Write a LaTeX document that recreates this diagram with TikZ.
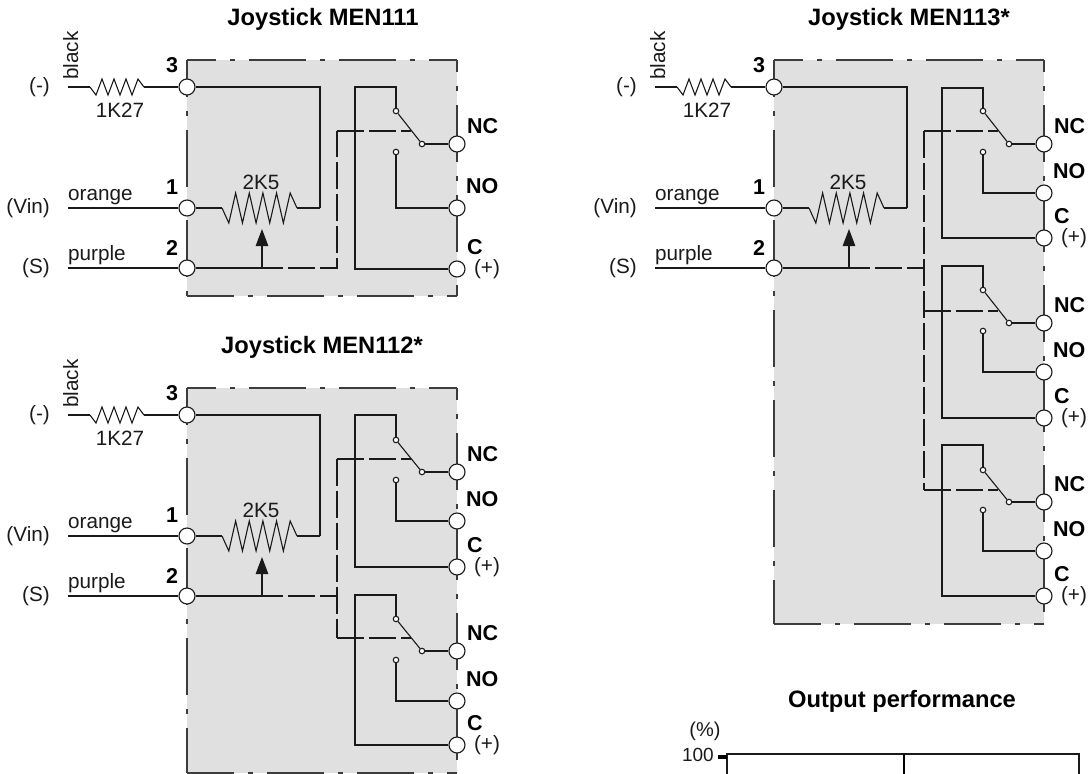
\documentclass[tikz,border=0pt]{standalone}
\usepackage{fontspec}
\setmainfont{Liberation Sans}
\usetikzlibrary{arrows.meta,calc}
\definecolor{panelgrey}{HTML}{E0E0E0}
\definecolor{inkc}{HTML}{1A1A1A}
\newcommand{\fsz}[1]{\fontsize{#1}{#1}\selectfont}
\tikzset{
  wire/.style={draw=inkc,line width=1.1pt},
  ctrl/.style={draw=inkc,line width=1.1pt,dash pattern=on 27pt off 5pt},
  panel/.style={fill=panelgrey},
  panelline/.style={draw=inkc!85,line width=1.1pt,dash pattern=on 57pt off 14pt on 5pt off 14pt},
  pin/.style={circle,draw=inkc,fill=white,line width=1.1pt,minimum size=16pt,inner sep=0pt},
  contact/.style={circle,draw=inkc,fill=white,line width=1.1pt,minimum size=5.5pt,inner sep=0pt},
  txt/.style={inner sep=0pt,font=\fsz{20.7},text=inkc},
  bold/.style={inner sep=0pt,font=\fsz{21.5}\bfseries,text=black},
  heading/.style={inner sep=0pt,anchor=base,font=\fsz{23.7}\bfseries,text=black},
}
% grey panel with its dash-dot outline
\newcommand{\panelbox}[4]{%
  \path[panel] (#1,#2) rectangle (#3,#4);
  \draw[panelline,dash phase=28pt] (#1,#2) -- (#3,#2);
  \draw[panelline,dash phase=20pt] (#1,#2) -- (#1,#4);
  \draw[panelline,dash phase=45pt] (#3,#2) -- (#3,#4);
  \draw[panelline,dash phase=10pt] (#1,#4) -- (#3,#4);
}
% resistor: #1 start, #2 end, #3 number of peaks, #4 half height
\newcommand{\resistorzig}[4]{%
  \draw[wire,line join=miter] (#1) \foreach \i in {1,...,#3} { -- ($(#1)!{\i/(#3+1)}!(#2)+(0,{#4*(2*mod(\i,2)-1)})$) } -- (#2);}
% left part of a joystick: #1 prefix, #2 x offset, #3 y pin3, #4 y pin1, #5 y pin2
\newcommand{\leftpart}[5]{%
  \node[pin] (#1p3) at (#2+187,#3) {};
  \node[pin] (#1p1) at (#2+187,#4) {};
  \node[pin] (#1p2) at (#2+187,#5) {};
  \coordinate (#1w3) at (#2+68,#3);
  \coordinate (#1w1) at (#2+68,#4);
  \coordinate (#1w2) at (#2+68,#5);
  \coordinate (#1ra) at (#2+90,#3);
  \coordinate (#1rb) at (#2+144,#3);
  \coordinate (#1pa) at (#2+222,#4);
  \coordinate (#1pb) at (#2+297,#4);
  \coordinate (#1lc) at (#2+320,#4);
  \coordinate (#1wi) at (#2+262,#5);
  \coordinate (#1ti) at (#2+262,#4+21);
  \draw[wire] (#1w3) -- (#1ra);
  \resistorzig{#1ra}{#1rb}{8}{8}
  \draw[wire] (#1rb) -- (#1p3);
  \draw[wire] (#1w1) -- (#1p1);
  \draw[wire] (#1w2) -- (#1p2);
  \draw[wire] (#1p2) -- (#1wi);
  \draw[wire] (#1p1) -- (#1pa);
  \resistorzig{#1pa}{#1pb}{10}{15}
  \draw[wire] (#1pb) -- (#1lc);
  \draw[wire] (#1p3) -| (#1lc);
  \draw[wire,-{Triangle[length=17pt,width=12.5pt]}] (#1wi) -- (#1ti);
  \node[txt,anchor=east] (#1tm) at (#2+50,#3) {(-)};
  \node[txt,anchor=east] (#1tv) at (#2+50,#4) {(Vin)};
  \node[txt,anchor=east] (#1ts) at (#2+50,#5) {(S)};
  \node[txt,rotate=90,anchor=base west] (#1tb) at (#2+78,#3-7) {black};
  \node[txt] (#1tk) at (#2+120,#3+23) {1K27};
  \node[txt,anchor=base west] (#1to) at (#2+68,#4-8) {orange};
  \node[txt,anchor=base west] (#1tp) at (#2+68,#5-8) {purple};
  \node[txt] (#1tr) at (#2+261,#4-26) {2K5};
  \node[bold] (#1n3) at (#2+172,#3-22) {3};
  \node[bold] (#1n1) at (#2+172,#4-21) {1};
  \node[bold] (#1n2) at (#2+172,#5-20) {2};
}
% #1 prefix, #2 x offset, #3 top, #4 upper contact, #5 common, #6 lower contact, #7 NO, #8 C, #9 control y
\newcommand{\switchunit}[9]{%
  \node[pin] (#1nc) at (#2+457,#5) {};
  \node[pin] (#1no) at (#2+457,#7) {};
  \node[pin] (#1c) at (#2+457,#8) {};
  \node[contact] (#1u) at (#2+396,#4) {};
  \node[contact] (#1m) at (#2+422,#5) {};
  \node[contact] (#1l) at (#2+396,#6) {};
  \coordinate (#1ot) at (#2+355,#3);
  \coordinate (#1ob) at (#2+355,#8);
  \coordinate (#1ut) at (#2+396,#3);
  \coordinate (#1lb) at (#2+396,#7);
  \coordinate (#1cl) at (#2+337,#9);
  \coordinate (#1cr) at (#2+411,#9);
  \draw[wire] (#1c) -- (#1ob) -- (#1ot) -- (#1ut) -- (#1u);
  \draw[wire] (#1u) -- (#1m);
  \draw[wire] (#1m) -- (#1nc);
  \draw[wire] (#1l) -- (#1lb) -- (#1no);
  \draw[ctrl] (#1cl) -- (#1cr);
  \node[bold,anchor=west] (#1tnc) at (#2+467,#5-18) {NC};
  \node[bold,anchor=west] (#1tno) at (#2+466,#7-22) {NO};
  \node[bold,anchor=west] (#1tc) at (#2+467,#8-22) {C};
  \node[txt] (#1tp) at (#2+487,#8) {(+)};
}
\begin{document}
\begin{tikzpicture}[x=1pt,y=-1pt]
\useasboundingbox (0,0) rectangle (1088,774);
% panels
\panelbox{187}{60}{457}{296}
\panelbox{187}{388}{457}{773}
\panelbox{774}{60}{1044}{624}
% headings
\node[heading] (ha) at (323,25) {Joystick MEN111};
\node[heading] (hb) at (322,353) {Joystick MEN112*};
\node[heading] (hc) at (909,25) {Joystick MEN113*};
\node[heading] (hd) at (902,707) {Output performance};
% MEN111
\leftpart{a}{0}{87}{208}{268}
\switchunit{a1}{0}{87}{111}{144}{152}{208}{269}{131}
\coordinate (ab) at (337,268);
\draw[ctrl,dash phase=6pt] (awi) -- (ab) -- (a1cl);
% MEN112
\leftpart{b}{0}{415}{536}{596}
\switchunit{b1}{0}{415}{440}{472}{480}{521}{567}{459}
\switchunit{b2}{0}{595}{619}{651}{660}{701}{745}{638}
\coordinate (bj) at (337,596);
\draw[ctrl,dash phase=6pt] (bwi) -- (bj);
\draw[ctrl] (b1cl) -- (b2cl);
% MEN113
\leftpart{c}{587}{87}{208}{268}
\switchunit{c1}{587}{88}{111}{144}{152}{193}{238}{131}
\switchunit{c2}{587}{266}{290}{323}{331}{372}{418}{311}
\switchunit{c3}{587}{445}{470}{502}{510}{551}{596}{490}
\coordinate (cj) at (924,268);
\draw[ctrl,dash phase=6pt] (cwi) -- (cj);
\draw[ctrl] (c1cl) -- (c3cl);
% chart
\coordinate (gtl) at (727,754);
\coordinate (gtr) at (1079,754);
\coordinate (gbl) at (727,774);
\coordinate (gbr) at (1079,774);
\coordinate (gmt) at (904,754);
\coordinate (gmb) at (904,774);
\coordinate (gta) at (718,757);
\coordinate (gtb) at (727,757);
\draw[wire] (gbl) -- (gtl) -- (gtr) -- (gbr);
\draw[draw=black,line width=1.6pt] (gmt) -- (gmb);
\draw[draw=black,line width=4pt] (gta) -- (gtb);
\node[txt,font=\fsz{20}] (gp) at (705,731) {(\%)};
\node[txt,font=\fsz{19},anchor=east] (g100) at (714,755) {100};
\end{tikzpicture}
\end{document}
